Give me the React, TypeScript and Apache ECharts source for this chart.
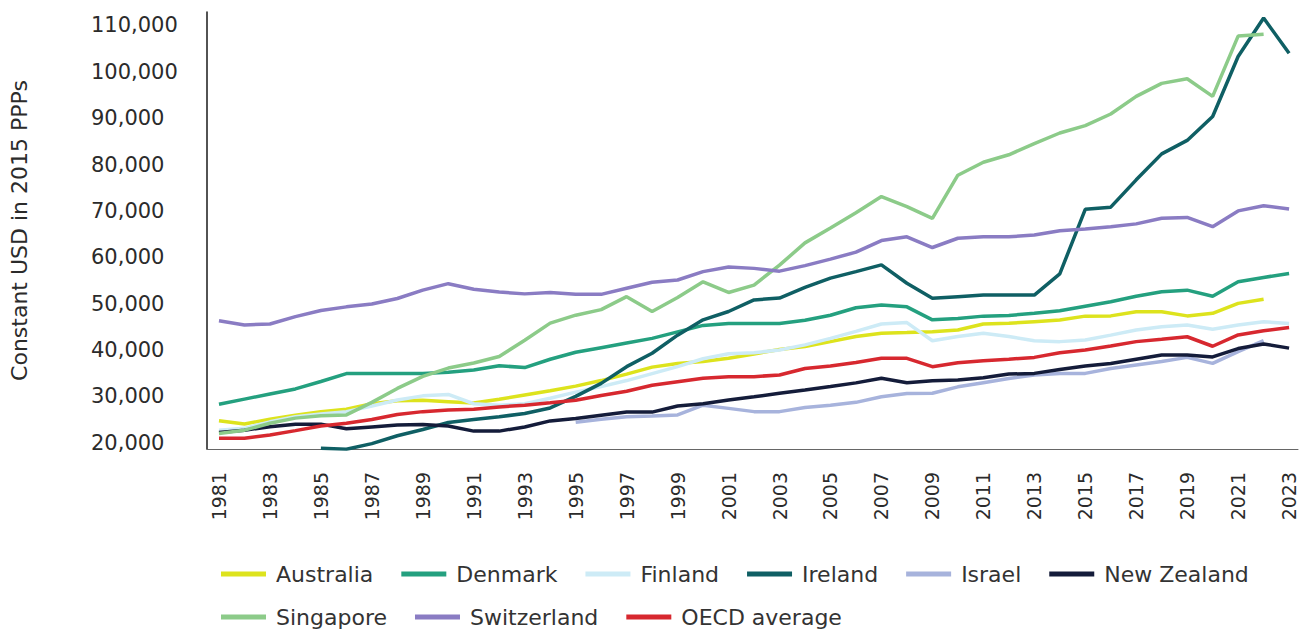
import React, { useEffect, useRef } from "react";
import * as echarts from "echarts";

const years: number[] = Array.from({ length: 43 }, (_, i) => 1981 + i);
const xTickYears = [1981, 1983, 1985, 1987, 1989, 1991, 1993, 1995, 1997, 1999, 2001, 2003, 2005, 2007, 2009, 2011, 2013, 2015, 2017, 2019, 2021, 2023];
const yTickValues = [20000, 30000, 40000, 50000, 60000, 70000, 80000, 90000, 100000, 110000];

const australia = [24750, 24050, 25050, 25950, 26700, 27200, 28400, 29050, 29150, 28850, 28550, 29350, 30300, 31200, 32200, 33400, 34800, 36300, 37100, 37500, 38200, 39150, 40100, 40750, 41800, 42900, 43600, 43750, 43950, 44300, 45600, 45750, 46100, 46450, 47300, 47350, 48250, 48250, 47350, 47900, 50050, 50950, null];
const denmark = [28300, 29400, 30500, 31600, 33200, 34900, 34900, 34900, 34900, 35200, 35700, 36600, 36200, 38000, 39500, 40500, 41500, 42500, 43900, 45300, 45700, 45700, 45700, 46400, 47500, 49100, 49700, 49300, 46500, 46800, 47300, 47450, 47900, 48450, 49450, 50400, 51600, 52550, 52900, 51600, 54700, 55650, 56500];
const finland = [22700, 23100, 24500, 25600, 26200, 26700, 27900, 29200, 30100, 30400, 28400, 28100, 28400, 29600, 30900, 32100, 33400, 34900, 36400, 38100, 39200, 39400, 40000, 41100, 42500, 44000, 45600, 45900, 42000, 42900, 43600, 42900, 42000, 41800, 42150, 43200, 44300, 45000, 45400, 44450, 45400, 46100, 45700];
const ireland = [null, null, null, null, 18790, 18600, 19800, 21500, 22850, 24350, 25000, 25600, 26300, 27500, 30000, 32800, 36400, 39300, 43200, 46500, 48300, 50800, 51200, 53500, 55500, 56900, 58350, 54400, 51150, 51500, 51850, 51850, 51850, 56400, 70350, 70800, 76700, 82300, 85200, 90350, 103300, 111600, 104000];
const israel = [null, null, null, null, null, null, null, null, null, null, null, null, null, null, 24400, 25050, 25600, 25750, 26000, 28100, 27400, 26700, 26700, 27600, 28100, 28700, 29900, 30600, 30650, 32050, 32950, 33850, 34600, 34950, 34950, 36000, 36750, 37500, 38400, 37100, 39650, 42000, null];
const newZealand = [22200, 22700, 23450, 24000, 24000, 23000, 23400, 23800, 23950, 23600, 22500, 22500, 23400, 24700, 25200, 25900, 26600, 26600, 27900, 28400, 29200, 29900, 30650, 31350, 32100, 32900, 33900, 32950, 33350, 33500, 34000, 34800, 34950, 35800, 36550, 37100, 38000, 38900, 38900, 38500, 40300, 41300, 40400];
const singapore = [22000, 22700, 24200, 25300, 25800, 26000, 28700, 31700, 34300, 36100, 37200, 38600, 42100, 45800, 47500, 48700, 51500, 48300, 51300, 54700, 52400, 54000, 58300, 63100, 66300, 69600, 73100, 70900, 68400, 77700, 80500, 82100, 84500, 86800, 88400, 90900, 94700, 97500, 98500, 94700, 107700, 108100, null];
const switzerland = [46300, 45400, 45600, 47200, 48500, 49300, 49900, 51100, 52900, 54300, 53100, 52500, 52100, 52400, 52000, 52000, 53300, 54600, 55100, 56900, 57900, 57600, 57000, 58200, 59600, 61100, 63600, 64400, 62100, 64100, 64400, 64400, 64800, 65700, 66100, 66600, 67200, 68400, 68600, 66600, 70000, 71100, 70400];
const oecd = [20950, 20950, 21650, 22600, 23600, 24200, 25000, 26100, 26700, 27060, 27200, 27700, 28100, 28600, 29150, 30200, 31100, 32400, 33150, 33900, 34250, 34250, 34600, 36000, 36550, 37300, 38200, 38200, 36400, 37250, 37700, 38000, 38400, 39400, 40000, 40850, 41800, 42300, 42850, 40800, 43250, 44150, 44850];

const seriesDefs = [
  { name: "Australia", values: australia, color: "#dde31d" },
  { name: "Denmark", values: denmark, color: "#24a07f" },
  { name: "Finland", values: finland, color: "#cdebf6" },
  { name: "Ireland", values: ireland, color: "#0f5f64" },
  { name: "Israel", values: israel, color: "#a7b3dc" },
  { name: "New Zealand", values: newZealand, color: "#141c3a" },
  { name: "Singapore", values: singapore, color: "#8ccb89" },
  { name: "Switzerland", values: switzerland, color: "#8a7cc3" },
  { name: "OECD average", values: oecd, color: "#d7282f" },
];

const legendRow1 = ["Australia", "Denmark", "Finland", "Ireland", "Israel", "New Zealand"];
const legendRow2 = ["Singapore", "Switzerland", "OECD average"];

const FONT = "'DejaVu Sans', sans-serif";

const legendBase = {
  left: 221,
  padding: 0,
  icon: "rect",
  itemWidth: 45,
  itemHeight: 5,
  itemGap: 28,
  textStyle: { fontFamily: FONT, fontSize: 22, color: "#333333", padding: [0, 0, 0, 5] },
};

export default function App() {
  const ref = useRef<HTMLDivElement>(null);
  useEffect(() => {
    if (!ref.current) return;
    const chart = echarts.init(ref.current, null, { renderer: "svg" });
    chart.setOption({
      animation: false,
      backgroundColor: "#ffffff",
      textStyle: { fontFamily: FONT },
      grid: { left: 199, right: 1, top: 12, bottom: 182, containLabel: false },
      legend: [
        { ...legendBase, top: 563, data: legendRow1 },
        { ...legendBase, top: 606, data: legendRow2 },
      ],
      xAxis: {
        type: "value",
        min: 1980.53,
        max: 2023.35,
        axisLine: { show: true, lineStyle: { color: "#666666", width: 1 } },
        axisTick: { show: false },
        splitLine: { show: false },
        axisLabel: {
          customValues: xTickYears,
          rotate: 90,
          margin: 23,
          fontFamily: FONT,
          fontSize: 19,
          color: "#2b2b2b",
          formatter: (v: number) => String(v),
        },
      },
      yAxis: {
        type: "value",
        min: 18640,
        max: 112900,
        name: "Constant USD in 2015 PPPs",
        nameLocation: "middle",
        nameRotate: 90,
        nameGap: 177,
        nameTextStyle: { fontFamily: FONT, fontSize: 22, color: "#2b2b2b" },
        axisLine: { show: true, lineStyle: { color: "#1a1a1a", width: 1.5 } },
        axisTick: { show: false },
        splitLine: { show: false },
        axisLabel: {
          customValues: yTickValues,
          align: "left",
          margin: 116,
          fontFamily: FONT,
          fontSize: 21,
          color: "#2b2b2b",
          formatter: (v: number) => v.toLocaleString("en-US"),
        },
      },
      series: seriesDefs.map((s) => ({
        name: s.name,
        type: "line",
        symbol: "none",
        color: s.color,
        lineStyle: { color: s.color, width: 3.5 },
        itemStyle: { color: s.color },
        data: years
          .map((y, i) => [y, s.values[i]])
          .filter((d) => d[1] !== null && d[1] !== undefined),
      })),
    });
    return () => chart.dispose();
  }, []);
  return (
    <div
      ref={ref}
      style={{ position: "fixed", left: 0, top: 0, width: 1299, height: 631, background: "#fff" }}
    />
  );
}
